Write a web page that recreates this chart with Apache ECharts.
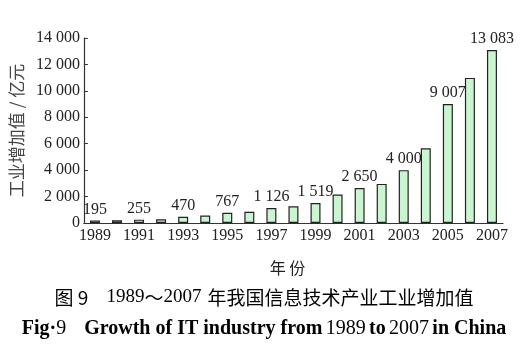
<!DOCTYPE html>
<html><head><meta charset="utf-8">
<script src="https://cdn.jsdelivr.net/npm/echarts@6/dist/echarts.min.js"></script>
<style>html,body{margin:0;padding:0;background:#fff}#c{width:528px;height:362px}</style>
</head><body><div id="c"></div>
<script>
const years = ['1989','1990','1991','1992','1993','1994','1995','1996','1997','1998','1999','2000','2001','2002','2003','2004','2005','2006','2007'];
const values = [195,205,255,280,470,560,767,850,1126,1270,1519,2150,2650,2960,4000,5650,9007,10980,13083];
const shownLabels = [195,null,255,null,470,null,767,null,1126,null,1519,null,2650,null,4000,null,9007,null,13083];
const yTicks = [0,2000,4000,6000,8000,10000,12000,14000];

const fmt = v => { const s = String(v); return s.length > 3 ? s.slice(0, s.length-3) + ' ' + s.slice(-3) : s; };
const serif = '"Liberation Serif","DejaVu Serif",serif';
const cjk = '"Noto Sans CJK SC","Liberation Serif",serif';

const chart = echarts.init(document.getElementById('c'));
chart.setOption({
  animation: false,
  grid: {left: 83, right: 25, top: 38, bottom: 139},
  xAxis: {
    type: 'category', data: years, boundaryGap: true,
    axisLine: {lineStyle: {color: '#333', width: 1.2}},
    axisTick: {inside: true, length: 4, alignWithLabel: false, lineStyle: {color: '#333'}},
    axisLabel: {interval: 1, color: '#222', fontFamily: serif, fontSize: 16, margin: 5},
    name: '年 份', nameLocation: 'middle', nameGap: 37,
    nameTextStyle: {fontFamily: cjk, fontSize: 16, color: '#222', padding: [0, 12, 0, 0]}
  },
  yAxis: {
    type: 'value', min: yTicks[0], max: yTicks[yTicks.length-1], interval: 2000,
    splitLine: {show: false},
    axisLine: {show: true, lineStyle: {color: '#333', width: 1.2}},
    axisTick: {show: true, inside: true, length: 4, lineStyle: {color: '#333'}},
    axisLabel: {color: '#222', fontFamily: serif, fontSize: 16, margin: 4, formatter: v => fmt(v)},
    name: '工业增加值 / 亿元', nameLocation: 'middle', nameRotate: 90, nameGap: 57,
    nameTextStyle: {fontFamily: cjk, fontSize: 17, color: '#444'}
  },
  series: [{
    type: 'bar', barWidth: 10,
    data: values.map((v, i) => ({
      value: v,
      label: shownLabels[i] == null ? {show: false} : {show: true, formatter: fmt(shownLabels[i])}
    })),
    itemStyle: {color: '#c9f6d0', borderColor: '#222', borderWidth: 1.2},
    label: {position: 'top', distance: 3, color: '#222', fontFamily: serif, fontSize: 16}
  }],
  graphic: [
    {type: 'text', left: 'center', top: 288, style: {
      text: '{f|图 9}{n|1989}{w|～}{n|2007}{s| }{a|年我国信息技术产业工业增加值}',
      rich: {
        f: {fontFamily: cjk, fontSize: 19, color: '#444', padding: [0, 18, 0, 0]},
        a: {fontFamily: cjk, fontSize: 19, color: '#444'},
        n: {fontFamily: serif, fontSize: 19, color: '#555'},
        w: {fontFamily: cjk, fontSize: 19, color: '#555'},
        s: {fontFamily: serif, fontSize: 19, width: 6}
      }
    }},
    {type: 'text', left: 'center', top: 319, style: {
      text: '{b|Fig·}{g|9}{b|Growth of IT industry from} {n|1989} {b|to} {n|2007} {b|in China}',
      rich: {
        b: {fontFamily: serif, fontSize: 20, fontWeight: 'bold', color: '#333'},
        n: {fontFamily: serif, fontSize: 20, color: '#555'},
        g: {fontFamily: serif, fontSize: 20, color: '#555', padding: [0, 18, 0, 0]}
      }
    }}
  ]
});
</script></body></html>
